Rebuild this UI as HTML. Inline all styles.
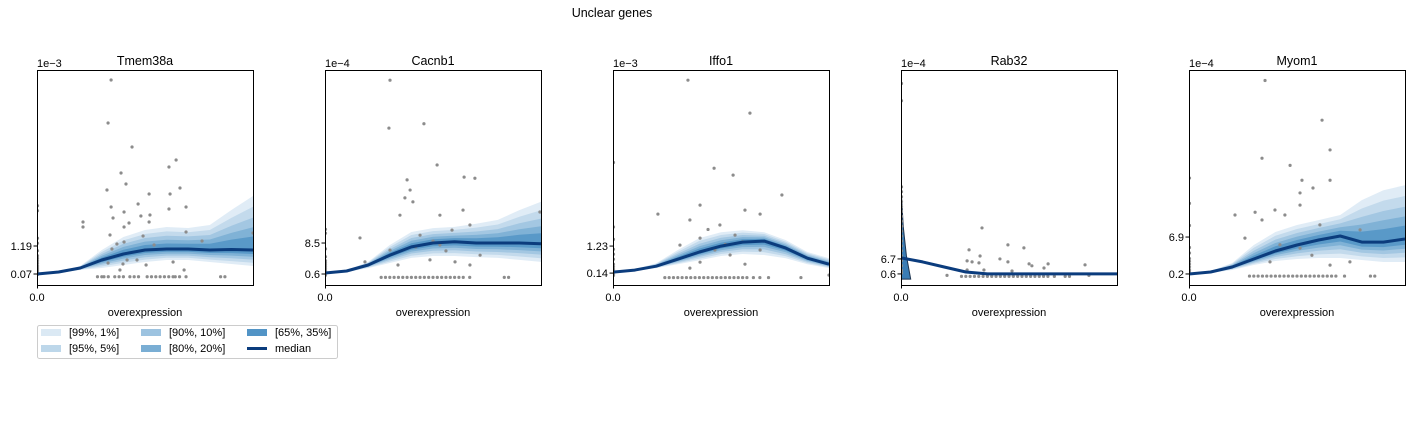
<!DOCTYPE html>
<html><head><meta charset="utf-8"><style>
body{margin:0;background:#fff;}
svg{display:block;font-family:"Liberation Sans","DejaVu Sans",sans-serif;}
</style></head><body>
<svg id="fig" width="1411" height="437" viewBox="0 0 1411 437">
<text x="612" y="17" font-size="12.5" text-anchor="middle">Unclear genes</text>
<g id="panels"></g>
<g>
<rect x="37.5" y="325.5" width="300" height="33" rx="2" fill="#fff" stroke="#ccc"/>
<rect x="41" y="329" width="20" height="7" fill="#dbe9f4"/>
<text x="69" y="336" font-size="11">[99%, 1%]</text>
<rect x="41" y="345" width="20" height="7" fill="#bdd7ea"/>
<text x="69" y="352" font-size="11">[95%, 5%]</text>
<rect x="141" y="329" width="20" height="7" fill="#9dc3e0"/>
<text x="169" y="336" font-size="11">[90%, 10%]</text>
<rect x="141" y="345" width="20" height="7" fill="#7aaed4"/>
<text x="169" y="352" font-size="11">[80%, 20%]</text>
<rect x="247" y="329" width="20" height="7" fill="#5294c6"/>
<text x="275" y="336" font-size="11">[65%, 35%]</text>
<line x1="247" y1="348.5" x2="267" y2="348.5" stroke="#0b3c7d" stroke-width="3"/>
<text x="275" y="352" font-size="11">median</text>
</g>
</svg>
<script>
// ---- data ----
const genes = ["Tmem38a","Cacnb1","Iffo1","Rab32","Myom1"];
const offsets = ["1e\u22123","1e\u22124","1e\u22123","1e\u22124","1e\u22124"];
const tickVals = [[0.07,1.19],[0.6,8.5],[0.14,1.23],[0.6,6.7],[0.2,6.9]];
const tickLabels = [["0.07","1.19"],["0.6","8.5"],["0.14","1.23"],["0.6","6.7"],["0.2","6.9"]];
const yLims = [[-0.37,8.23],[-2.2,52.6],[-0.34,8.33],[-3.9,83.5],[-1.8,37.2]];
const gridX = [0,0.1,0.2,0.3,0.4,0.5,0.6,0.7,0.8,0.9,1.0];
const median1 = [0.07,0.15,0.31,0.63,0.87,1.03,1.07,1.07,1.03,1.05,1.03];
const upper1 = [0.07,0.15,0.39,1.03,1.55,1.83,1.95,1.91,2.03,2.63,3.19];
const lower1 = [0.07,0.11,0.23,0.31,0.43,0.55,0.63,0.63,0.55,0.47,0.39];
const median2 = [0.85,1.37,2.9,5.4,7.5,8.5,8.8,8.5,8.5,8.5,8.3];
const upper2 = [0.85,1.6,3.7,8.0,11.3,12.3,12.6,13.4,14.4,16.9,19.0];
const lower2 = [0.85,1.1,2.1,3.4,4.7,5.2,5.2,4.9,4.7,4.2,3.7];
const median3 = [0.18,0.26,0.42,0.7,0.99,1.23,1.39,1.43,1.15,0.74,0.5];
const upper3 = [0.18,0.3,0.54,1.07,1.55,1.79,1.87,1.79,1.47,0.99,0.74];
const lower3 = [0.18,0.22,0.34,0.5,0.66,0.83,0.91,0.87,0.74,0.5,0.34];
const median4 = [7.1,5.5,3.4,1.4,0.6,0.6,0.6,0.6,0.6,0.6,0.6];
const upper4 = [7.6,6.0,3.9,1.9,1.0,0.9,0.9,0.9,0.9,0.9,0.9];
const lower4 = [6.6,5.0,2.9,0.9,0.3,0.3,0.3,0.3,0.3,0.3,0.3];
const median5 = [0.2,0.56,1.47,2.92,4.37,5.45,6.36,7.08,5.98,5.98,6.54];
const upper5 = [0.2,0.74,2.19,5.45,7.81,9.08,9.98,10.9,13.6,15.4,16.3];
const lower5 = [0.2,0.38,0.92,1.83,2.55,2.92,3.1,3.1,2.74,2.37,2.37];
const spike4X = [0,0.01,0.025,0.045,0];
const spike4Y = [36,20,8,-1.5,-1.5];
// scatter points [x fraction, value]
const pts1 = [[.343,7.83],[.329,6.11],[.44,5.15],[.644,4.63],[.611,4.35],[.389,4.11],[.412,3.67],[.324,3.43],[.662,3.51],[.616,3.27],[.519,3.27],[.343,2.75],[.468,2.87],[.611,2.67],[.69,2.75],[.403,2.55],[.352,2.31],[.481,2.39],[.523,2.43],[.213,2.15],[.426,2.11],[.519,2.15],[.213,1.95],[.403,1.95],[.69,1.75],[.338,1.63],[.491,1.59],[.37,1.27],[.403,1.35],[.764,1.39],[.542,1.23],[.347,1.07],[.463,.63],[.63,.55],[.329,.51],[.398,.47],[.417,.63],[.505,.43],[.384,.23],[.681,.23],[1.0,1.71]];
const pts2 = [[.301,50],[.296,37.8],[.458,38.9],[.519,28.4],[.38,24.6],[.394,22],[.37,20],[.407,19],[.644,25.3],[.694,25],[.639,16.9],[.532,15.6],[.347,15.6],[.588,11.8],[.671,13.1],[.162,9.8],[.44,10.5],[.532,8],[.301,6.7],[.718,5.4],[.486,4.2],[.602,3.7],[.338,2.9],[.671,2.9],[.995,16.4],[.185,3.7],[.42,7.5],[.56,6.5],[.5,9]];
const pts3 = [[.347,7.92],[.634,6.59],[.468,4.37],[.556,4.09],[.782,3.29],[.208,2.52],[.403,2.88],[.611,2.68],[.356,2.28],[.495,2.08],[.681,2.52],[.403,1.55],[.565,1.67],[.31,1.27],[.472,1.07],[.681,1.07],[.403,.58],[.611,.5],[.542,.87],[.356,.34],[1.0,.06],[.44,1.9],[.52,1.3],[.6,1.4]];
const pts4 = [[.375,19.3],[.495,12.4],[.569,11.2],[.315,10.4],[.366,7.9],[.458,6.7],[.306,5.9],[.329,5.5],[.361,5.1],[.495,5.5],[.593,4.7],[.606,3.9],[.681,4.7],[.662,3.0],[.852,4.3],[.306,2.2],[.384,2.2],[.514,1.8],[.213,0],[.87,0]];
const pts5 = [[.352,35.3],[.616,28.1],[.653,22.7],[.338,21.2],[.468,19.9],[.523,17.2],[.653,17.2],[.574,15.8],[.514,14.9],[.213,10.9],[.306,11.4],[.398,11.8],[.444,10.9],[.514,12.7],[.338,10],[.606,9.1],[.259,6.7],[.792,8.2],[.421,5.5],[.514,4.9],[.569,3.6],[.375,2.4],[.653,1.8],[.745,2.4]];
const base1 = [.28,.3,.31,.33,.36,.38,.4,.43,.45,.47,.51,.53,.55,.57,.59,.61,.63,.64,.66,.69,.85,.87];
const base2 = [.26,.28,.3,.32,.34,.36,.38,.4,.42,.44,.46,.48,.5,.52,.54,.56,.58,.6,.62,.64,.67,.83,.85];
const base3 = [.24,.26,.28,.3,.32,.34,.36,.38,.4,.42,.44,.46,.48,.5,.52,.54,.56,.58,.6,.62,.65,.68,.72,.87];
const base4 = [.28,.3,.32,.34,.36,.38,.4,.42,.44,.46,.48,.5,.52,.54,.56,.58,.6,.62,.64,.66,.68,.71,.76,.78];
const base5 = [.28,.3,.32,.34,.36,.38,.4,.42,.44,.46,.48,.5,.52,.54,.56,.58,.6,.62,.64,.66,.68,.72,.84,.86];
const col1 = [2.8,2.6,1.5,1.3,1.0,0.8,0.7,0.6,0.5,0.4,0.35,0.3,0.25,0.2,0.15,0.1,0.05];
const col2 = [12,11,7,5,4,3.5,3,2.5,2,1.5,1.2,1,0.8,0.5,0.3];
const col3 = [4.6,2.0,1.5,1.1,0.9,0.7,0.5,0.4,0.3,0.25,0.2,0.15,0.1,0.05];
const col4 = [78,71,36,34,32,30,28,26,24,22,20,18,16,14,12,10,8,6,4,2,1];
const col5 = [17.6,13,9,5,4,3,2.5,2,1.5,1,0.8,0.5,0.3];
const medians=[median1,median2,median3,median4,median5];
const uppers=[upper1,upper2,upper3,upper4,upper5];
const lowers=[lower1,lower2,lower3,lower4,lower5];
const pointSets=[pts1,pts2,pts3,pts4,pts5];
const baseSets=[base1,base2,base3,base4,base5];
const colSets=[col1,col2,col3,col4,col5];
const bandFrac=[1,0.8,0.6,0.42,0.25];
const bandColors=["#dbe9f4","#bdd7ea","#9dc3e0","#7aaed4","#5294c6"];
const bandNames=["band-99","band-95","band-90","band-80","band-65"];
// ---- draw ----
const NS="http://www.w3.org/2000/svg";
const root=document.getElementById('panels');
const axLeft=[37,325,613,901,1189], axTop=70, axW=216, axH=215;
function mk(tag,attrs,parent){const e=document.createElementNS(NS,tag);for(const k in attrs)e.setAttribute(k,attrs[k]);parent.appendChild(e);return e;}
genes.forEach((g,i)=>{
  const L=axLeft[i];const [y0,y1]=yLims[i];
  const xs=v=>L+v*axW;
  const ys=v=>axTop+axH-(v-y0)/(y1-y0)*axH;
  const grp=mk('g',{},root);
  
  
  const cid='clip'+i;
  const cp=mk('clipPath',{id:cid},grp);mk('rect',{x:L,y:axTop,width:axW,height:axH},cp);
  const plot=mk('g',{'clip-path':'url(#'+cid+')'},grp);
  const med=medians[i],up=uppers[i],lo=lowers[i];
  bandFrac.forEach((f,b)=>{
    let d='';
    gridX.forEach((x,j)=>{d+=(j?'L':'M')+xs(x).toFixed(1)+','+ys(med[j]+(up[j]-med[j])*f).toFixed(1);});
    for(let j=gridX.length-1;j>=0;j--){d+='L'+xs(gridX[j]).toFixed(1)+','+ys(med[j]-(med[j]-lo[j])*f).toFixed(1);}
    const p=mk('path',{d:d+'Z',fill:bandColors[b],'fill-opacity':'0.85'},plot);
    
    
  });
  if(i===3){
    let d='';spike4X.forEach((x,j)=>{d+=(j?'L':'M')+xs(x).toFixed(1)+','+ys(spike4Y[j]).toFixed(1);});
    const s=mk('path',{d:d+'Z',fill:'#3a7db5',stroke:'#1f3550','stroke-width':'1'},plot);
    
    
  }
  const dotAttrs={r:1.6,fill:'#8c8c8c'};
  pointSets[i].forEach(p=>{const c=mk('circle',{cx:xs(p[0]),cy:ys(p[1]),...dotAttrs},plot);
    
    });
  baseSets[i].forEach(x=>{const c=mk('circle',{cx:xs(x),cy:ys(0)+1,...dotAttrs},plot);
    
    });
  colSets[i].forEach(v=>{const c=mk('circle',{cx:xs(0)+0.5,cy:ys(v),...dotAttrs},plot);
    
    });
  let md='';gridX.forEach((x,j)=>{md+=(j?'L':'M')+xs(x).toFixed(1)+','+ys(med[j]).toFixed(1);});
  const ml=mk('path',{d:md,fill:'none',stroke:'#0b3c7d','stroke-width':'3','stroke-linejoin':'round'},plot);
  
  
  const fr=mk('rect',{x:L+0.5,y:axTop+0.5,width:axW,height:axH,fill:'none',stroke:'#000','stroke-width':'1'},grp);
  
  
  const t=mk('text',{x:L+axW/2,y:axTop-5,'font-size':'12.5','text-anchor':'middle'},grp);t.textContent=g;
  
  
  const o=mk('text',{x:L,y:axTop-3,'font-size':'11'},grp);o.textContent=offsets[i];
  
  
  tickVals[i].forEach((v,k)=>{
    const y=ys(v);
    mk('line',{x1:L-3.5,x2:L,y1:y,y2:y,stroke:'#000'},grp);
    const tl=mk('text',{x:L-5,y:y+4,'font-size':'11','text-anchor':'end'},grp);tl.textContent=tickLabels[i][k];
    
    
  });
  mk('line',{x1:L+0.5,x2:L+0.5,y1:axTop+axH,y2:axTop+axH+3.5,stroke:'#000'},grp);
  const xt=mk('text',{x:L,y:axTop+axH+16,'font-size':'11','text-anchor':'middle'},grp);xt.textContent='0.0';
  
  
  const xl=mk('text',{x:L+axW/2,y:axTop+axH+31,'font-size':'11','text-anchor':'middle'},grp);xl.textContent='overexpression';
  
  
});
</script>
</body></html>
